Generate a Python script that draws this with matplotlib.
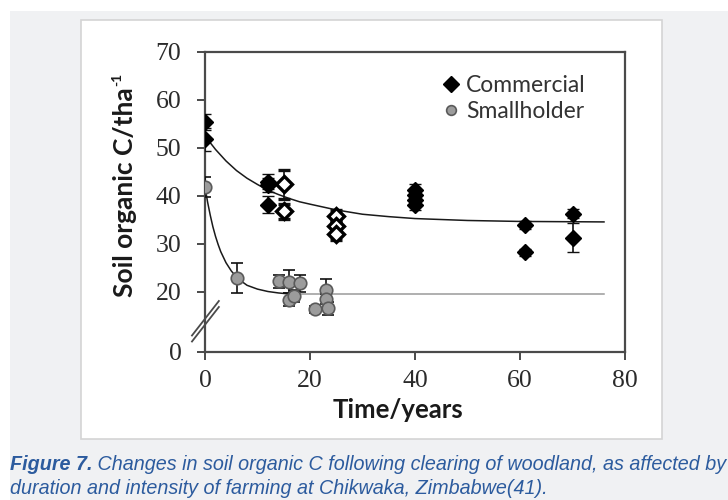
import numpy as np
import matplotlib
matplotlib.use("Agg")
import matplotlib.pyplot as plt
from matplotlib.patches import Rectangle
from matplotlib.lines import Line2D

# ---------------- data ----------------
com_t_filled = [0, 0, 12, 12, 12, 40, 40, 40, 40, 61, 61, 70, 70]
com_y_filled = [55.4, 51.8, 43.0, 42.3, 38.2, 41.3, 40.3, 39.2, 38.2, 34.0, 28.3, 36.3, 31.3]
com_e_filled = [1.6, 2.4, 1.5, 1.5, 1.8, 1.1, 1.1, 1.1, 1.1, 0.8, 0.7, 0.9, 3.0]

com_t_open = [15, 15, 25, 25, 25]
com_y_open = [42.4, 36.8, 35.8, 33.7, 32.0]
com_e_open = [3.1, 1.6, 1.3, 1.0, 1.1]

sh_t = [0, 6, 14, 16, 18, 16, 17, 21, 23, 23, 23.5]
sh_y = [41.8, 22.9, 22.2, 22.1, 21.8, 18.4, 19.2, 16.4, 20.5, 18.6, 16.6]
sh_e = [2.1, 3.2, 1.3, 2.4, 1.8, 1.3, 1.2, 0.7, 2.2, 1.0, 1.3]

# fitted curves, points
com_curve_t = [0, 2, 4, 6, 8, 10, 12, 14, 16, 18, 20, 25, 30, 35, 40, 50, 60, 76]
com_curve_y = [52.5, 49.7, 47.3, 45.3, 43.7, 42.4, 41.2, 40.3, 39.5, 38.8, 38.3,
               37.1, 36.2, 35.7, 35.3, 34.9, 34.7, 34.6]
sh_curve_t = [0, 0.5, 1, 1.5, 2, 2.5, 3, 4, 5, 6, 7, 8, 10, 12, 14, 16]
sh_curve_y = [41.8, 38.7, 36.0, 33.6, 31.6, 29.9, 28.4, 26.1, 24.4, 23.1, 22.2,
              21.4, 20.6, 20.1, 19.8, 19.6]
sh_base_t = [16, 76]
sh_base_y = [19.6, 19.6]

x_ticks = [0, 20, 40, 60, 80]
y_ticks = [0, 20, 30, 40, 50, 60, 70]
labels = ["Commercial", "Smallholder"]
caption_bold = "Figure 7."
caption_rest = " Changes in soil organic C following clearing of woodland, as affected by"
caption_line2 = "duration and intensity of farming at Chikwaka, Zimbabwe(41)."

# ---------------- figure ----------------
W, H = 728, 500
fig = plt.figure(figsize=(W / 100, H / 100), dpi=100)
fig.patch.set_facecolor("white")

def fx(px):
    return px / W

def fy(py):
    return 1 - py / H

fig.patches.append(Rectangle((fx(10), 0), 1, fy(11), transform=fig.transFigure,
                             facecolor="#f0f1f3", edgecolor="none", zorder=-3))
fig.patches.append(Rectangle((fx(81), fy(439)), fx(662) - fx(81), fy(20) - fy(439),
                             transform=fig.transFigure, facecolor="white",
                             edgecolor="#d4d4d4", linewidth=1.2, zorder=-2))

ax = fig.add_axes([fx(205), fy(352), fx(625) - fx(205), fy(52) - fy(352)])
ax.set_facecolor("none")

# broken y axis: 0..14 compressed
brk_in = [0, 14, 1000]
brk_out = [7.5, 14, 1000]
ax.set_yscale("function", functions=(lambda v: np.interp(v, brk_in, brk_out),
                                     lambda v: np.interp(v, brk_out, brk_in)))

line_c = "#1a1a1a"
ax.plot(com_curve_t, com_curve_y, color=line_c, lw=1.1, zorder=2)
ax.plot(sh_curve_t, sh_curve_y, color=line_c, lw=1.1, zorder=2)
ax.plot(sh_base_t, sh_base_y, color="#9a9a9a", lw=1.1, zorder=1)

ekw = dict(ecolor="#111111", elinewidth=1.2, capsize=4.5, capthick=1.2, ls="none")
ax.errorbar(sh_t, sh_y, yerr=sh_e, fmt="o", ms=9, mfc="#9c9c9c", mec="#5a5a5a",
            mew=1.2, zorder=3, **ekw)
ax.errorbar(com_t_filled, com_y_filled, yerr=com_e_filled, fmt="D", ms=8.5,
            mfc="black", mec="black", mew=1, zorder=4, **ekw)
ax.errorbar(com_t_open, com_y_open, yerr=com_e_open, fmt="D", ms=8, mfc="white",
            mec="black", mew=2.4, zorder=4, **ekw)

ax.set_xlim(0, 80)
ax.set_ylim(0, 70)
ax.set_xticks(x_ticks)
ax.set_yticks(y_ticks)
ax.set_xticklabels([str(v) for v in x_ticks])
ax.set_yticklabels([str(v) for v in y_ticks])
for sp in ax.spines.values():
    sp.set_color("#4a4a4a")
    sp.set_linewidth(1.6)
ax.tick_params(axis="both", direction="out", length=6, width=1.4, color="#4a4a4a",
               labelsize=18.5, labelcolor="#2b2b2b")
ax.tick_params(axis="y", pad=11)
ax.tick_params(axis="x", pad=7)
for lab in ax.get_xticklabels() + ax.get_yticklabels():
    lab.set_fontfamily("Liberation Serif")

# axis break marks
for dy in (0.0, 0.02):
    ax.plot([-0.031, 0.033], [0.035 + dy, 0.15 + dy], transform=ax.transAxes,
            color="#4a4a4a", lw=1.3, clip_on=False, zorder=5)

# axis labels
fig.text(fx(398), fy(410), "Time/years", ha="center", va="center", fontsize=18.5,
         fontweight="bold", family="Lato", color="#1a1a1a")
ylab = fig.text(fx(125), fy(192), "Soil organic C/tha", ha="center",
                va="center", rotation=90, fontsize=19, fontweight="bold",
                family="Lato", color="#1a1a1a")
ax.annotate("-1", xy=(0.0, 1.0), xycoords=ylab, xytext=(-1, 1),
            textcoords="offset points", ha="left", va="bottom", rotation=90,
            fontsize=10, fontweight="bold", family="Lato", color="#1a1a1a",
            annotation_clip=False)

# legend
handles = [Line2D([], [], marker="D", ls="none", ms=8, mfc="black", mec="black"),
           Line2D([], [], marker="o", ls="none", ms=7, mfc="#9c9c9c", mec="#5a5a5a",
                  mew=1.2)]
leg = ax.legend(handles, labels, loc="upper left", bbox_to_anchor=(0.543, 0.955),
                frameon=False, prop=dict(family="Lato", size=16.5), handlelength=0.8,
                handletextpad=0.25, labelspacing=0.25, borderaxespad=0)
for t in leg.get_texts():
    t.set_color("#333333")

# caption
cap_color = "#2c5b9e"
cap_size = 14.2
t1 = fig.text(fx(10), fy(470), caption_bold, ha="left", va="baseline", fontsize=cap_size,
              family="Liberation Sans", style="italic", fontweight="bold", color=cap_color)
ax.annotate(caption_rest, xy=(1, 0), xycoords=t1, ha="left", va="bottom",
            fontsize=cap_size, family="Liberation Sans", style="italic", color=cap_color,
            annotation_clip=False)
fig.text(fx(10), fy(494), caption_line2, ha="left", va="baseline", fontsize=cap_size,
         family="Liberation Sans", style="italic", color=cap_color)

fig.savefig("out.png", dpi=100, facecolor=fig.get_facecolor())
